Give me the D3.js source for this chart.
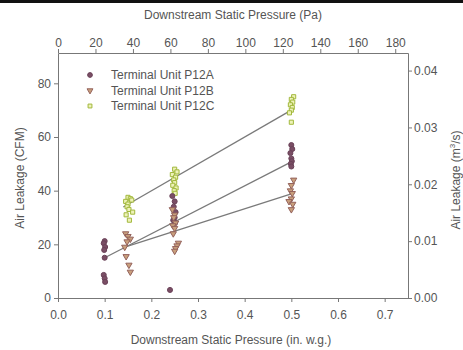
<!DOCTYPE html>
<html><head><meta charset="utf-8">
<script src="https://cdn.jsdelivr.net/npm/d3@7"></script>
<style>
body{margin:0;background:#fff;}
svg{display:block;font-family:"Liberation Sans",Arial,sans-serif;}
.tick text{fill:#555;font-size:12px;}
.domain,.tick line{stroke:#777;}
</style></head>
<body><svg id="c" width="463" height="350"></svg>
<script>
// ---- data ----
const seriesNames = ["Terminal Unit P12A","Terminal Unit P12B","Terminal Unit P12C"];
// P12A (circles)
const aX = [0.100,0.098,0.101,0.099,0.100,0.098,0.100,0.101, 0.245,0.250,0.248,0.252,0.250,0.247,0.251,0.240, 0.500,0.502,0.498,0.500,0.501,0.499,0.500];
const aY = [21.2,20.4,19.0,17.9,15.0,8.6,7.3,6.0, 38.0,36.0,34.0,32.0,30.0,29.0,28.0,3.0, 57.0,55.5,54.0,52.0,51.0,50.0,49.0];
// P12B (down triangles)
const bX = [0.145,0.150,0.155,0.148,0.143,0.146,0.152,0.155, 0.245,0.250,0.248,0.252,0.246,0.250,0.247,0.258,0.255,0.252,0.250, 0.505,0.500,0.498,0.502,0.500,0.495,0.503,0.500];
const bY = [24.0,23.0,22.0,21.0,19.0,15.5,12.3,9.7, 33.0,31.0,30.0,28.0,27.0,26.0,24.0,20.5,19.5,18.5,17.5, 44.0,42.0,40.0,39.0,37.0,36.0,35.0,33.0];
// P12C (squares)
const cX = [0.150,0.155,0.158,0.145,0.150,0.148,0.152,0.160,0.146,0.153, 0.250,0.255,0.245,0.252,0.248,0.250,0.246,0.253,0.249,0.251, 0.505,0.500,0.503,0.498,0.502,0.500,0.496,0.500];
const cY = [37.5,37.0,36.5,36.0,35.0,34.0,33.0,32.0,31.0,29.0, 48.0,47.0,46.0,45.0,44.0,43.0,42.0,41.0,40.0,39.0, 75.0,74.0,73.0,72.0,71.0,70.0,69.0,65.5];
// fitted regression lines [x,y] end points
const fitA = [[0.100,15.0],[0.500,50.7]];
const fitB = [[0.143,19.0],[0.505,39.1]];
const fitC = [[0.140,33.9],[0.500,70.0]];
const xTicks = [0,0.1,0.2,0.3,0.4,0.5,0.6,0.7];
const yTicks = [0,20,40,60,80];
const paTicks = [0,20,40,60,80,100,120,140,160,180];
const m3Ticks = [0,0.01,0.02,0.03,0.04];
const IN_TO_PA = 249.09, CFM_TO_M3S = 0.000471947;

// ---- layout ----
const svg = d3.select("#c");
const L=58, R=408, T=53, B=298;
const xMax=0.75, yMax=91.3;
const x = d3.scaleLinear().domain([0,xMax]).range([L,R]);
const y = d3.scaleLinear().domain([0,yMax]).range([B,T]);
const xPa = d3.scaleLinear().domain([0,xMax*IN_TO_PA]).range([L,R]);
const yM3 = d3.scaleLinear().domain([0,yMax*CFM_TO_M3S]).range([B,T]);

svg.append("rect").attr("x",0).attr("y",0).attr("width",463).attr("height",3).attr("fill","#111");

svg.append("g").attr("transform",`translate(0,${B})`)
  .call(d3.axisBottom(x).tickValues(xTicks).tickFormat(d3.format(".1f")).tickSize(4).tickSizeOuter(0).tickPadding(8));
svg.append("g").attr("transform",`translate(0,${T})`)
  .call(d3.axisTop(xPa).tickValues(paTicks).tickFormat(d3.format("d")).tickSize(4).tickSizeOuter(0).tickPadding(2));
svg.append("g").attr("transform",`translate(${L},0)`)
  .call(d3.axisLeft(y).tickValues(yTicks).tickSize(4).tickSizeOuter(0).tickPadding(3));
svg.append("g").attr("transform",`translate(${R},0)`)
  .call(d3.axisRight(yM3).tickValues(m3Ticks).tickFormat(d3.format(".2f")).tickSize(4).tickSizeOuter(0).tickPadding(2));

// titles
const tc="#555";
svg.append("text").attr("x",(L+R)/2).attr("y",19).attr("text-anchor","middle").attr("font-size",12).attr("fill",tc).text("Downstream Static Pressure (Pa)");
svg.append("text").attr("x",(L+R)/2-2).attr("y",344).attr("text-anchor","middle").attr("font-size",12).attr("fill",tc).text("Downstream Static Pressure (in. w.g.)");
svg.append("text").attr("transform","translate(24,178) rotate(-90)").attr("text-anchor","middle").attr("font-size",12).attr("fill",tc).text("Air Leakage (CFM)");
const rt = svg.append("text").attr("transform","translate(460,180) rotate(-90)").attr("text-anchor","middle").attr("font-size",12).attr("fill",tc);
rt.append("tspan").text("Air Leakage (m");
rt.append("tspan").attr("font-size",8).attr("dy",-5).text("3");
rt.append("tspan").attr("dy",5).text("/s)");

// regression lines
const line = d3.line().x(d=>x(d[0])).y(d=>y(d[1]));
[fitA,fitB,fitC].forEach(f=>svg.append("path").attr("d",line(f)).attr("fill","none").attr("stroke","#7a7a7a").attr("stroke-width",1.3));

// markers
const styles = [
  {sym:d3.symbolCircle,size:20,fill:"#7a4e65",stroke:"#6a4258",rot:0},
  {sym:d3.symbolTriangle,size:17,fill:"#c9a07c",stroke:"#94625c",rot:180},
  {sym:d3.symbolSquare,size:17,fill:"#eef2b8",stroke:"#a2b83c",rot:0}
];
const sets = [[aX,aY],[bX,bY],[cX,cY]];
// draw C first, then A, B on top
[2,0,1].forEach(i=>{
  const s=styles[i], [xs,ys]=sets[i];
  svg.append("g").selectAll("path").data(xs.map((v,k)=>[v,ys[k]])).join("path")
    .attr("d",d3.symbol(s.sym,s.size))
    .attr("transform",d=>`translate(${x(d[0])},${y(d[1])}) rotate(${s.rot})`)
    .attr("fill",s.fill).attr("stroke",s.stroke).attr("stroke-width",1);
});

// legend
const lg = svg.append("g");
seriesNames.forEach((n,i)=>{
  const s=styles[i], yy=75+i*15.5;
  lg.append("path").attr("d",d3.symbol(s.sym,s.size-2)).attr("transform",`translate(90,${yy}) rotate(${s.rot})`)
    .attr("fill",s.fill).attr("stroke",s.stroke);
  lg.append("text").attr("x",111).attr("y",yy+4).attr("font-size",12).attr("fill",tc).text(n);
});
</script></body></html>
